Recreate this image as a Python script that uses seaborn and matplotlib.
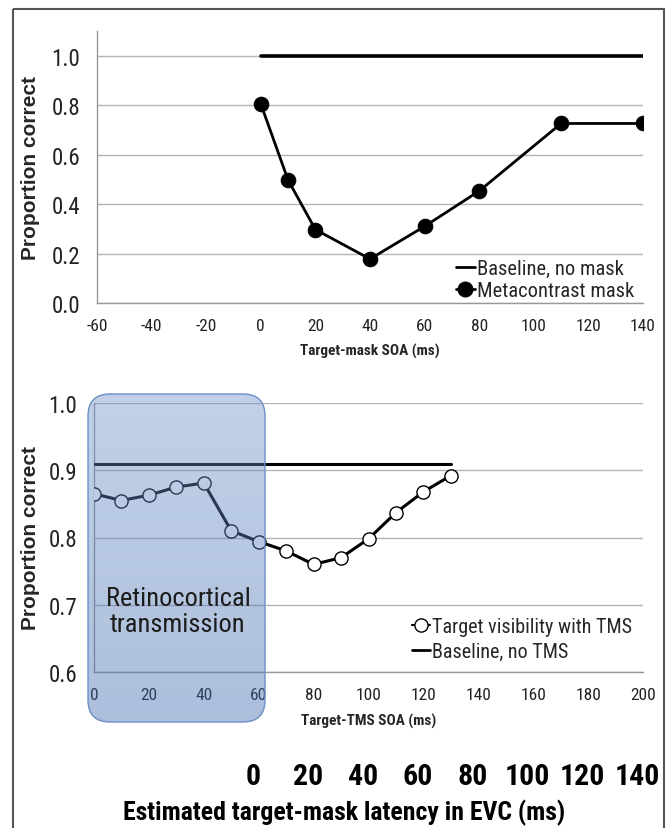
import numpy as np
import pandas as pd
import matplotlib
matplotlib.use("Agg")
import matplotlib.pyplot as plt
import seaborn as sns
from matplotlib import font_manager as fm
from matplotlib.patches import FancyBboxPatch, Rectangle
from matplotlib.lines import Line2D

# ---------------- data ----------------
mask_soa = [0, 10, 20, 40, 60, 80, 110, 140]
mask_pc = [0.805, 0.497, 0.297, 0.178, 0.310, 0.453, 0.726, 0.726]
mask_base_x = [0, 140]
mask_base_y = [1.0, 1.0]

tms_soa = [0, 10, 20, 30, 40, 50, 60, 70, 80, 90, 100, 110, 120, 130]
tms_pc = [0.865, 0.855, 0.863, 0.875, 0.881, 0.810, 0.794, 0.780,
          0.760, 0.770, 0.798, 0.837, 0.868, 0.892]
tms_base_x = [0, 130]
tms_base_y = [0.91, 0.91]

top_xticks = [-60, -40, -20, 0, 20, 40, 60, 80, 100, 120, 140]
top_yticks = [0.0, 0.2, 0.4, 0.6, 0.8, 1.0]
bot_xticks = [0, 20, 40, 60, 80, 100, 120, 140, 160, 180, 200]
bot_yticks = [0.6, 0.7, 0.8, 0.9, 1.0]
latency_ticks = [0, 20, 40, 60, 80, 100, 120, 140]

sns.set_theme(style="white")

# ---- choose a narrow font if one is installed ----
narrow_family, narrow_stretch = None, "normal"
names = {f.name for f in fm.fontManager.ttflist}
for cand in ["Liberation Sans Narrow", "Arial Narrow", "Roboto Condensed",
             "Open Sans Condensed", "Noto Sans Condensed", "DejaVu Sans Condensed"]:
    if cand in names:
        narrow_family = cand
        break
if narrow_family is None:
    for f in fm.fontManager.ttflist:
        st = str(f.stretch)
        if st in ("condensed", "semi-condensed", "extra-condensed") or \
           (st.isdigit() and int(st) < 500):
            if f.name in ("DejaVu Sans", "Roboto", "Open Sans", "Noto Sans",
                          "Liberation Sans", "Lato", "Inter"):
                narrow_family = f.name
                narrow_stretch = "condensed"
                break
scale = 1.0
if narrow_family is None:
    narrow_family = "Liberation Sans"
    scale = 0.88

plt.rcParams["font.family"] = [narrow_family, "DejaVu Sans"]
plt.rcParams["font.stretch"] = narrow_stretch


def fs(v):
    return v * scale


W, H = 668, 829
fig = plt.figure(figsize=(W / 100, H / 100), dpi=100)
fig.patch.set_facecolor("white")


def px_axes(x0, y0, x1, y1):
    return fig.add_axes([x0 / W, 1 - y1 / H, (x1 - x0) / W, (y1 - y0) / H])


GRID = "#b4b4b4"
SPINE = "#999999"


def style_axes(ax):
    for s in ["top", "right"]:
        ax.spines[s].set_visible(False)
    for s in ["left", "bottom"]:
        ax.spines[s].set_color(SPINE)
        ax.spines[s].set_linewidth(1.0)
    ax.yaxis.grid(True, color=GRID, linewidth=1.0)
    ax.xaxis.grid(False)
    ax.set_axisbelow(True)
    ax.tick_params(axis="both", which="both", direction="out", color=SPINE,
                   length=6, width=1.0, colors="#222222")
    ax.tick_params(axis="y", labelsize=fs(16.5), pad=6)
    ax.tick_params(axis="x", labelsize=fs(12.5), pad=5)


# ---------------- top panel ----------------
ax1 = px_axes(97, 32, 643, 304)
df_mask = pd.DataFrame({"soa": mask_soa, "pc": mask_pc})
df_mbase = pd.DataFrame({"soa": mask_base_x, "pc": mask_base_y})
sns.lineplot(data=df_mbase, x="soa", y="pc", ax=ax1, color="black",
             linewidth=2.6, zorder=3)
sns.lineplot(data=df_mask, x="soa", y="pc", ax=ax1, color="black",
             linewidth=2.0, marker="o", markersize=10.5,
             markerfacecolor="black", markeredgecolor="black", zorder=4)
ax1.set_xlim(-60, 140)
ax1.set_ylim(0, 1.1)
ax1.set_xticks(top_xticks)
ax1.set_xticklabels([str(v) for v in top_xticks])
ax1.set_yticks(top_yticks)
ax1.set_yticklabels([f"{v:.1f}" for v in top_yticks])
style_axes(ax1)
ax1.set_xlabel("Target-mask SOA (ms)", fontsize=fs(11), fontweight="bold",
               labelpad=7)
ax1.set_ylabel("Proportion correct", fontsize=15, fontweight="bold",
               family=["Liberation Sans", "DejaVu Sans"], fontstretch="normal",
               labelpad=8)
h1 = [Line2D([], [], color="black", lw=2.0),
      Line2D([], [], color="black", lw=2.0, marker="o", markersize=10.5)]
ax1.legend(h1, ["Baseline, no mask", "Metacontrast mask"], loc="lower right",
           bbox_to_anchor=(0.991, -0.0055), borderaxespad=0, frameon=False,
           fontsize=fs(14.8), handlelength=0.9, handletextpad=0.1,
           labelspacing=0.15, borderpad=0.2)

# ---------------- bottom panel ----------------
ax2 = px_axes(94, 404, 643, 673)
df_tms = pd.DataFrame({"soa": tms_soa, "pc": tms_pc})
df_tbase = pd.DataFrame({"soa": tms_base_x, "pc": tms_base_y})
sns.lineplot(data=df_tbase, x="soa", y="pc", ax=ax2, color="black",
             linewidth=2.2, zorder=3)
sns.lineplot(data=df_tms, x="soa", y="pc", ax=ax2, color="black",
             linewidth=2.2, marker="o", markersize=9.5,
             markerfacecolor="white", markeredgecolor="black",
             markeredgewidth=1.0, zorder=4)
ax2.set_xlim(0, 200)
ax2.set_ylim(0.6, 1.0)
ax2.set_xticks(bot_xticks)
ax2.set_xticklabels([str(v) for v in bot_xticks])
ax2.set_yticks(bot_yticks)
ax2.set_yticklabels([f"{v:.1f}" for v in bot_yticks])
style_axes(ax2)
ax2.set_xlabel("Target-TMS SOA (ms)", fontsize=fs(11), fontweight="bold",
               labelpad=8)
ax2.set_ylabel("Proportion correct", fontsize=15, fontweight="bold",
               family=["Liberation Sans", "DejaVu Sans"], fontstretch="normal",
               labelpad=6)
h2 = [Line2D([], [], color="black", lw=1.5, marker="o", markersize=9.5,
             markerfacecolor="white", markeredgecolor="black"),
      Line2D([], [], color="black", lw=2.0)]
ax2.legend(h2, ["Target visibility with TMS", "Baseline, no TMS"],
           loc="lower right", bbox_to_anchor=(0.987, 0.0245), borderaxespad=0,
           frameon=False, fontsize=fs(14.5), handlelength=0.9,
           handletextpad=0.1, labelspacing=0.3, borderpad=0.2)

# ---------------- latency scale ----------------
ax3 = px_axes(253, 762, 637, 763)
ax3.set_xlim(0, 140)
ax3.set_ylim(0, 1)
for s in ax3.spines.values():
    s.set_visible(False)
ax3.set_yticks([])
ax3.set_xticks(latency_ticks)
ax3.set_xticklabels([str(v) for v in latency_ticks])
ax3.tick_params(axis="x", length=0, pad=0, labelsize=fs(21.5), colors="black")
for t in ax3.get_xticklabels():
    t.set_fontweight("bold")
ax3.set_facecolor("none")
ax3.set_xlabel("Estimated target-mask latency in EVC (ms)", fontsize=fs(18.5),
               fontweight="bold", color="black")
ax3.xaxis.set_label_coords((344 - 253) / (637 - 253), -37)

# ---------------- overlay: blue box + frame ----------------
ov = fig.add_axes([0, 0, 1, 1], zorder=10)
ov.set_xlim(0, W)
ov.set_ylim(H, 0)
ov.axis("off")
ov.patch.set_alpha(0)

bx0, by0, bx1, by1 = 88, 395, 265, 723
box = FancyBboxPatch((bx0, by0), bx1 - bx0, by1 - by0,
                     boxstyle="round,pad=0,rounding_size=22",
                     facecolor="none", edgecolor="none")
ov.add_patch(box)
n = 200
top_c = np.array([112, 148, 204]) / 255
bot_c = np.array([62, 104, 172]) / 255
t = np.linspace(0, 1, n)[:, None]
grad = np.zeros((n, 1, 4))
grad[:, 0, :3] = top_c * (1 - t) + bot_c * t
grad[:, 0, 3] = 0.43
im = ov.imshow(grad, extent=[bx0, bx1, by1, by0], aspect="auto",
               interpolation="bilinear", zorder=1)
im.set_clip_path(box)
edge = FancyBboxPatch((bx0, by0), bx1 - bx0, by1 - by0,
                      boxstyle="round,pad=0,rounding_size=22",
                      facecolor="none", edgecolor="#6b8fc6", linewidth=1.0,
                      zorder=2)
ov.add_patch(edge)
ov.text(178, 612, "Retinocortical\ntransmission", ha="center", va="center",
        fontsize=fs(19), color="#1c1c1c", linespacing=1.15, zorder=3)

frame = Rectangle((13, 10), 651, 830, facecolor="none", edgecolor="#555555",
                  linewidth=1.5, zorder=4)
ov.add_patch(frame)

fig.savefig("out.png", dpi=100, facecolor="white")
